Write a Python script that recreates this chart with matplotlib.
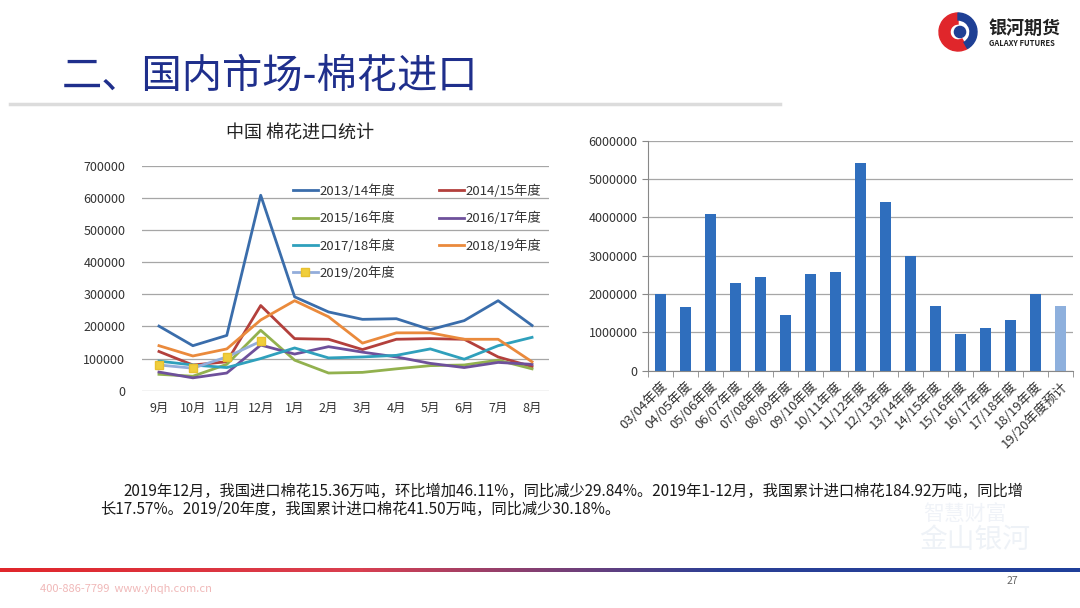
import numpy as np
import matplotlib
matplotlib.use('Agg')
import matplotlib.pyplot as plt
from matplotlib.patches import Wedge, Circle
from matplotlib.ticker import FuncFormatter

plt.rcParams['font.family'] = ['Noto Sans CJK SC', 'DejaVu Sans']

# 月度进口数据（吨）
months = ['9月', '10月', '11月', '12月', '1月', '2月', '3月', '4月', '5月', '6月', '7月', '8月']
y2013 = [201000, 140000, 172000, 608000, 292000, 245000, 222000, 224000, 190000, 218000, 280000, 203000]
y2014 = [122000, 80000, 90000, 265000, 162000, 160000, 128000, 160000, 162000, 160000, 105000, 75000]
y2015 = [51000, 45000, 82000, 188000, 95000, 55000, 57000, 68000, 78000, 80000, 95000, 68000]
y2016 = [58000, 40000, 55000, 142000, 114000, 137000, 120000, 105000, 85000, 72000, 88000, 82000]
y2017 = [92000, 80000, 72000, 100000, 133000, 102000, 105000, 110000, 130000, 98000, 140000, 166000]
y2018 = [140000, 108000, 130000, 220000, 280000, 230000, 148000, 180000, 180000, 160000, 160000, 90000]
y2019 = [80000, 70000, 105000, 153600]

# 年度进口数据（吨）
seasons = ['03/04年度', '04/05年度', '05/06年度', '06/07年度', '07/08年度', '08/09年度',
           '09/10年度', '10/11年度', '11/12年度', '12/13年度', '13/14年度', '14/15年度',
           '15/16年度', '16/17年度', '17/18年度', '18/19年度', '19/20年度预计']
season_vals = [2000000, 1650000, 4100000, 2280000, 2440000, 1450000, 2520000, 2570000,
               5430000, 4400000, 3000000, 1680000, 970000, 1110000, 1330000, 2000000, 1700000]

W, H = 1080, 608
fig = plt.figure(figsize=(W / 100, H / 100), dpi=100)
fig.patch.set_facecolor('white')

def fx(px):
    return px / W

def fy(py):
    return 1 - py / H

# 标题
fig.text(fx(62), fy(76), '二、国内市场-棉花进口', fontsize=29, color='#1F2F8C', va='center', ha='left')
fig.add_artist(plt.Line2D([fx(10), fx(780)], [fy(104), fy(104)], color='#DCDCDC', lw=2.5))

# logo
lax = fig.add_axes([fx(938), fy(52), fx(40), 40 / H])
lax.set_xlim(-1, 1)
lax.set_ylim(-1, 1)
lax.set_aspect('equal')
lax.axis('off')
lax.add_patch(Wedge((0, 0), 0.95, 90, 300, width=0.55, color='#E0262B'))
lax.add_patch(Wedge((0, 0), 0.95, 300, 450, width=0.35, color='#1E3F94'))
lax.add_patch(Circle((0.1, 0.0), 0.28, color='#1E3F94'))
fig.text(fx(988), fy(28), '银河期货', fontsize=13, fontweight='bold', color='#222222', va='center')
fig.text(fx(989), fy(43), 'GALAXY FUTURES', fontsize=5.5, fontweight='bold', color='#222222', va='center')

# 左图：月度折线
ax1 = fig.add_axes([fx(142), fy(390.7), fx(549 - 142), (390.7 - 165.7) / H])
x = np.arange(len(months))
l13, = ax1.plot(x, y2013, color='#3A6DAB', lw=2, label='2013/14年度')
l14, = ax1.plot(x, y2014, color='#B3403C', lw=2, label='2014/15年度')
l15, = ax1.plot(x, y2015, color='#92B14E', lw=2, label='2015/16年度')
l16, = ax1.plot(x, y2016, color='#6E509B', lw=2, label='2016/17年度')
l17, = ax1.plot(x, y2017, color='#2FA0BC', lw=2, label='2017/18年度')
l18, = ax1.plot(x, y2018, color='#EA8A3C', lw=2, label='2018/19年度')
l19, = ax1.plot(x[:len(y2019)], y2019, color='#93ADDB', lw=2, marker='s', ms=6,
                mfc='#F0CE3C', mec='#E8C030', label='2019/20年度')
ax1.set_xlim(-0.5, len(months) - 0.5)
ax1.set_ylim(0, 700000)
ax1.set_yticks(np.arange(0, 700001, 100000))
ax1.set_xticks(x)
ax1.set_xticklabels(months)
ax1.yaxis.grid(True, color='#A6A6A6', lw=0.9)
ax1.set_axisbelow(True)
for s in ax1.spines.values():
    s.set_visible(False)
ax1.tick_params(length=0, labelsize=9, colors='#333333', pad=8)
ax1.tick_params(axis='y', pad=12)
handles = [l13, l15, l17, l19, l14, l16, l18]
ax1.legend(handles, [h.get_label() for h in handles], ncol=2, loc='upper left',
           bbox_to_anchor=(0.37, 0.918), frameon=False,
           fontsize=9.5, handlelength=1.9, handletextpad=0.15, columnspacing=3.3,
           labelspacing=1.05, borderpad=0, borderaxespad=0, labelcolor='#333333')
fig.text(fx(300), fy(133), '中国 棉花进口统计', fontsize=13, color='#222222', ha='center', va='center')

# 右图：年度柱状
ax2 = fig.add_axes([fx(648), fy(370.7), fx(425), (370.7 - 140.7) / H])
xb = np.arange(len(seasons))
colors = ['#2F6EBD'] * (len(seasons) - 1) + ['#8EB0DD']
ax2.bar(xb, season_vals, width=0.42, color=colors, edgecolor='none')
ax2.set_xlim(-0.5, len(seasons) - 0.5)
ax2.set_ylim(0, 6000000)
ax2.set_yticks(np.arange(0, 6000001, 1000000))
ax2.yaxis.set_major_formatter(FuncFormatter(lambda v, p: '%d' % v))
ax2.yaxis.grid(True, color='#A6A6A6', lw=0.9)
ax2.set_axisbelow(True)
ax2.set_xticks(xb)
ax2.set_xticklabels(seasons, rotation=45, ha='right', rotation_mode='anchor')
ax2.set_xticks(np.arange(-0.5, len(seasons)), minor=True)
ax2.tick_params(axis='x', which='major', length=0, labelsize=9.5, colors='#333333', pad=6)
ax2.tick_params(axis='x', which='minor', length=4, color='#888888', direction='out')
ax2.tick_params(axis='y', length=4, color='#888888', labelsize=9, colors='#333333')
for s in ['top', 'right']:
    ax2.spines[s].set_visible(False)
ax2.spines['left'].set_color('#888888')
ax2.spines['bottom'].set_color('#888888')

# 说明文字
fig.text(fx(123), fy(491), '2019年12月，我国进口棉花15.36万吨，环比增加46.11%，同比减少29.84%。2019年1-12月，我国累计进口棉花184.92万吨，同比增',
         fontsize=11, color='#1A1A1A', va='center')
fig.text(fx(100), fy(509), '长17.57%。2019/20年度，我国累计进口棉花41.50万吨，同比减少30.18%。',
         fontsize=11, color='#1A1A1A', va='center')

# 水印
fig.text(fx(965), fy(514), '智慧财富', fontsize=15, color='#F0F3F8', ha='center', va='center')
fig.text(fx(975), fy(540), '金山银河', fontsize=20, color='#EEF2F7', ha='center', va='center')

# 底部渐变线
gax = fig.add_axes([0, fy(572), 1, 4 / H])
grad = np.linspace(0, 1, 256).reshape(1, -1)
cmap = matplotlib.colors.LinearSegmentedColormap.from_list('rb', ['#E0262B', '#D94050', '#2B3F95', '#1F3F9A'])
gax.imshow(grad, aspect='auto', cmap=cmap)
gax.axis('off')

fig.text(fx(40), fy(589), '400-886-7799  www.yhqh.com.cn', fontsize=8, color='#F0B8B8', va='center')
fig.text(fx(1012), fy(581), '27', fontsize=7.5, color='#666666', va='center', ha='center')

fig.savefig('out.png', dpi=100)
